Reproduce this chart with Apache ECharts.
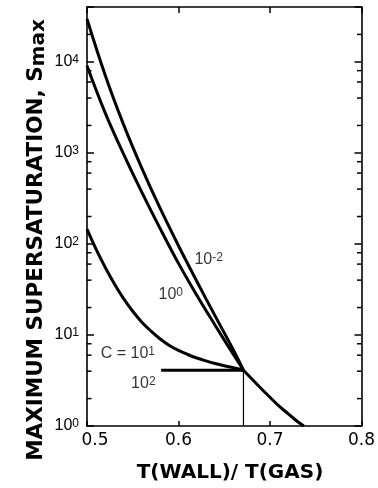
<!DOCTYPE html>
<html><head><meta charset="utf-8">
<script src="https://cdn.jsdelivr.net/npm/echarts@6/dist/echarts.min.js"></script>
<style>html,body{margin:0;padding:0;background:#fff}#c{width:378px;height:488px}</style>
</head><body><div id="c"></div>
<script>
// x tick values
const xTicks = [0.5, 0.6, 0.7, 0.8];
// C = 10^-2 and C = 10^0 curves
const curveX = [0.50, 0.52, 0.54, 0.56, 0.58, 0.60, 0.62, 0.64, 0.66, 0.671];
const sCm2 = [29500, 7080, 2040, 676, 245, 95.5, 38.9, 16.2, 6.84, 4.1];
const sC0 = [9040, 2730, 968, 368, 147, 61.1, 27.3, 12.8, 6.11, 4.1];
// C = 10^1 curve
const c1X = [0.50, 0.51, 0.52, 0.53, 0.54, 0.55, 0.56, 0.57, 0.58, 0.59, 0.60, 0.61, 0.62, 0.63, 0.64, 0.65, 0.66, 0.671];
const sC1 = [145, 87.1, 55, 36.3, 25.1, 18.2, 13.8, 11.0, 9.02, 7.67, 6.76, 6.10, 5.58, 5.19, 4.86, 4.59, 4.36, 4.1];
// C = 10^2 (flat)
const c2X = [0.581, 0.671];
const sC2 = [4.1, 4.1];
// common tail after convergence
const tailX = [0.671, 0.68, 0.69, 0.70, 0.71, 0.72, 0.73, 0.737];
const tailY = [4.1, 3.3, 2.6, 2.07, 1.65, 1.36, 1.12, 1.0];
// thin drop line
const dropX = [0.671, 0.671];
const dropY = [4.1, 1];
// minor log ticks
const minorTicks = [2, 4, 6, 8, 20, 40, 60, 80, 200, 400, 600, 800, 2000, 4000, 6000, 8000, 20000];
// curve labels
const labelText = ['10', '10', 'C = 10', '10'];
const labelExp = ['-2', '0', '1', '2'];
const labelX = [0.633, 0.5916, 0.5447, 0.5616];
const labelY = [67, 28, 6.3, 2.89];

const zip = (xs, ys) => xs.map((x, i) => [x, ys[i]]);
const mkLine = (d, w) => ({
  type: 'line', data: d, symbol: 'none', smooth: 0.4, silent: true,
  lineStyle: { color: '#000', width: w || 3 }, z: 3
});

const supRich = {
  b: { fontSize: 16, fontFamily: 'Liberation Sans', color: '#000', lineHeight: 16, verticalAlign: 'bottom' },
  s: { fontSize: 12, fontFamily: 'Liberation Sans', color: '#000', lineHeight: 12, verticalAlign: 'top', padding: [0, 0, 8, 0] }
};

const chart = echarts.init(document.getElementById('c'), null, { renderer: 'canvas' });
const axisLine = { show: true, lineStyle: { color: '#000', width: 1.6 } };
chart.setOption({
  animation: false,
  backgroundColor: '#fff',
  grid: { left: 87, right: 16, top: 7, bottom: 62, containLabel: false },
  xAxis: [
    {
      type: 'value', min: 0.5, max: 0.8, interval: 0.1, position: 'bottom',
      axisLine: axisLine, splitLine: { show: false },
      axisTick: { show: true, inside: true, length: 5, lineStyle: { color: '#000', width: 1.5 } },
      axisLabel: {
        show: true, margin: 6, showMinLabel: true, showMaxLabel: true,
        formatter: v => {
          const t = xTicks.find(k => Math.abs(k - v) < 1e-6);
          if (t === undefined) return '';
          return t === 0.5 ? '{f|0.5}' : '{n|' + t.toFixed(1) + '}';
        },
        rich: {
          n: { fontSize: 17, fontFamily: 'DejaVu Sans', color: '#000' },
          f: { fontSize: 17, fontFamily: 'DejaVu Sans', color: '#000', padding: [0, 0, 0, 16] }
        }
      }
    },
    {
      type: 'value', min: 0.5, max: 0.8, interval: 0.1, position: 'top',
      axisLine: axisLine, splitLine: { show: false },
      axisTick: { show: true, inside: true, length: 6, lineStyle: { color: '#000', width: 1.5 } },
      axisLabel: { show: false }
    }
  ],
  yAxis: [
    {
      type: 'log', logBase: 10, min: 1, max: 40000, position: 'left',
      axisLine: axisLine, splitLine: { show: false },
      axisTick: { show: true, inside: true, length: 7, lineStyle: { color: '#000', width: 1.5 } },
      axisLabel: {
        show: true, margin: 8,
        formatter: v => {
          const e = Math.round(Math.log10(v));
          if (Math.abs(Math.pow(10, e) - v) > 1e-6 * v) return '';
          return '{b|10}{s|' + e + '}';
        },
        rich: supRich
      }
    },
    {
      type: 'log', logBase: 10, min: 1, max: 40000, position: 'right',
      axisLine: axisLine, splitLine: { show: false },
      axisTick: { show: true, inside: true, length: 7, lineStyle: { color: '#000', width: 1.5 } },
      axisLabel: { show: false }
    }
  ],
  series: [
    mkLine(zip(curveX, sCm2)),
    mkLine(zip(curveX, sC0)),
    mkLine(zip(c1X, sC1)),
    Object.assign(mkLine(zip(c2X, sC2)), { smooth: false }),
    mkLine(zip(tailX, tailY)),
    Object.assign(mkLine(zip(dropX, dropY), 1.2), { smooth: false }),
    {
      type: 'custom', silent: true, clip: false, z: 5,
      data: minorTicks.map(v => [0.5, v]),
      renderItem: (params, api) => {
        const v = api.value(1);
        const l = api.coord([0.5, v]);
        const r = api.coord([0.8, v]);
        return {
          type: 'group', children: [
            { type: 'line', shape: { x1: l[0], y1: l[1], x2: l[0] + 4.5, y2: l[1] }, style: { stroke: '#000', lineWidth: 1.5 } },
            { type: 'line', shape: { x1: r[0], y1: r[1], x2: r[0] - 4.5, y2: r[1] }, style: { stroke: '#000', lineWidth: 1.5 } }
          ]
        };
      }
    },
    {
      type: 'scatter', silent: true, symbolSize: 1, z: 6,
      itemStyle: { color: 'rgba(0,0,0,0)' },
      data: labelX.map((x, i) => ({ value: [x, labelY[i]], t: labelText[i], e: labelExp[i] })),
      label: {
        show: true, position: 'inside',
        formatter: p => '{b|' + p.data.t + '}{s|' + p.data.e + '}',
        rich: supRich
      }
    }
  ],
  graphic: [
    {
      type: 'text', x: 37, y: 240, rotation: Math.PI / 2, silent: true,
      style: {
        text: '{t|MAXIMUM SUPERSATURATION, S}{m|max}',
        align: 'center', verticalAlign: 'middle',
        rich: {
          t: { fontSize: 21.5, fontWeight: 'bold', fontFamily: 'DejaVu Sans', fill: '#000', color: '#000', lineHeight: 24, verticalAlign: 'top' },
          m: { fontSize: 20, fontWeight: 'bold', fontFamily: 'DejaVu Sans', fill: '#000', color: '#000', lineHeight: 24, verticalAlign: 'bottom', padding: [3, 0, 0, 0] }
        }
      }
    },
    {
      type: 'text', x: 230, y: 473, silent: true,
      style: {
        text: 'T(WALL)/ T(GAS)', fontSize: 20, fontWeight: 'bold', fontFamily: 'DejaVu Sans',
        fill: '#000', align: 'center', verticalAlign: 'middle'
      }
    }
  ]
});
</script></body></html>
